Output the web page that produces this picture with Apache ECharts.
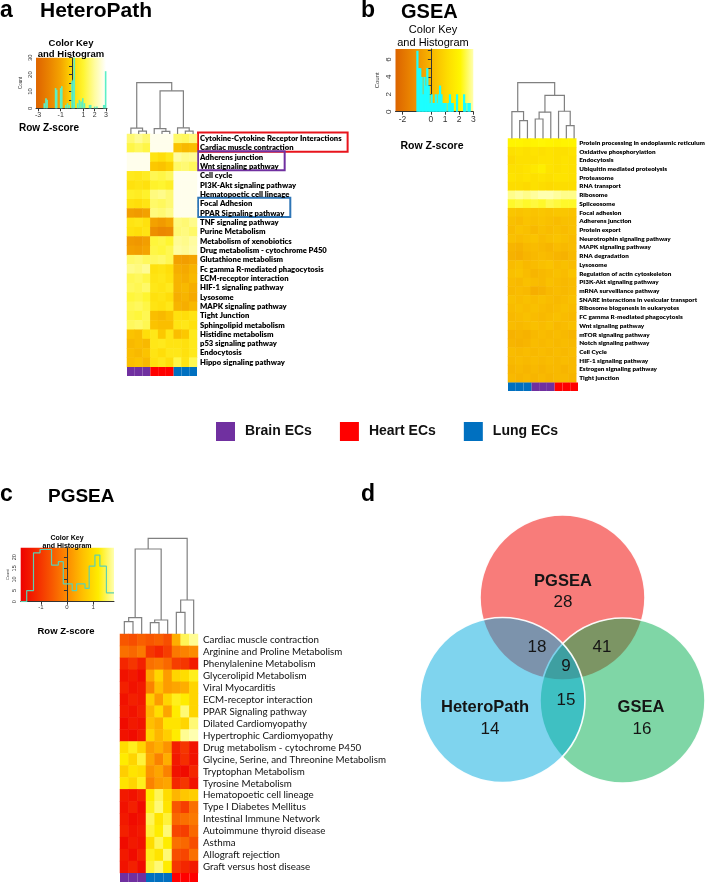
<!DOCTYPE html>
<html><head><meta charset="utf-8">
<script src="https://cdn.jsdelivr.net/npm/echarts@6/dist/echarts.min.js"></script>
<style>html,body{margin:0;padding:0;background:#fff}#c{width:708px;height:885px}</style>
</head><body><div id="c"></div>
<script>
// ---------------- DATA ----------------
const heatCols = ['C1','C2','C3','C4','C5','C6','C7','C8','C9'];

const heteroRows = ['Cytokine-Cytokine Receptor Interactions','Cardiac muscle contraction','Adherens junction','Wnt signaling pathway','Cell cycle','PI3K-Akt signaling pathway','Hematopoetic cell lineage','Focal Adhesion','PPAR Signaling pathway','TNF signaling pathway','Purine Metabolism','Metabolism of xenobiotics','Drug metabolism - cytochrome P450','Glutathione metabolism','Fc gamma R-mediated phagocytosis','ECM-receptor interaction','HIF-1 signaling pathway','Lysosome','MAPK signaling pathway','Tight Junction','Sphingolipid metabolism','Histidine metabolism','p53 signaling pathway','Endocytosis','Hippo signaling pathway'];
const heteroVals = [
[1.6,1.9,1.6, 2.8,2.8,2.8, 1.5,1.4,1.7],
[1.2,1.4,1.2, 2.8,2.8,2.8, -0.4,-0.6,-0.5],
[2.8,2.8,2.8, 0.4,0.2,0.5, 2.0,1.8,1.9],
[2.8,2.8,2.8, -0.3,-0.4,-0.2, 1.5,1.6,1.4],
[0.6,0.5,0.7, 1.3,1.2,1.4, 2.8,2.8,2.8],
[0.3,0.4,0.3, 0.9,1.0,0.8, 2.8,2.8,2.8],
[0.8,0.7,0.9, 1.7,1.8,1.6, 2.8,2.8,2.8],
[0.3,0.2,0.4, 1.5,1.4,1.6, 2.8,2.8,2.8],
[-1.2,-1.3,-1.1, 1.7,1.6,1.8, 2.8,2.8,2.8],
[0.4,0.5,0.3, -1.1,-1.3,-1.0, 1.7,1.6,1.8],
[0.3,0.2,0.4, -1.7,-1.9,-1.8, 1.6,1.7,1.5],
[-1.3,-1.4,-1.2, 1.1,1.2,1.0, 1.9,1.8,2.0],
[-1.1,-1.2,-1.0, 1.2,1.1,1.3, 2.0,1.9,2.1],
[1.5,1.6,1.4, 1.4,1.5,1.3, -1.1,-1.2,-1.0],
[1.8,1.7,1.9, 0.3,0.4,0.2, -0.8,-0.9,-0.7],
[1.3,1.4,1.2, 0.4,0.5,0.3, -0.7,-0.8,-0.6],
[1.4,1.3,1.5, 0.5,0.4,0.6, -0.7,-0.6,-0.8],
[1.1,1.2,1.0, 0.3,0.4,0.2, -0.8,-0.7,-0.9],
[1.3,1.4,1.2, 0.4,0.3,0.5, -0.7,-0.8,-0.6],
[1.2,1.1,1.3, -0.5,-0.6,-0.4, 0.3,0.2,0.4],
[1.4,1.5,1.3, -0.4,-0.5,-0.5, 0.4,0.5,0.3],
[-0.4,-0.5,0.2, 0.5,-0.3,0.4, -0.5,-0.3,0.6],
[-0.6,-0.5,-0.6, 0.5,0.6,0.4, 0.4,0.3,0.6],
[-0.5,-0.6,-0.4, 0.4,0.2,0.5, 0.5,0.3,0.6],
[-0.5,-0.4,-0.6, 0.3,0.5,0.2, 1.2,0.4,1.3]
];

const gseaRows = ['Protein processing in endoplasmic reticulum','Oxidative phosphorylation','Endocytosis','Ubiquitin mediated proteolysis','Proteasome','RNA transport','Ribosome','Spliceosome','Focal adhesion','Adherens junction','Protein export','Neurotrophin signaling pathway','MAPK signaling pathway','RNA degradation','Lysosome','Regulation of actin cytoskeleton','PI3K-Akt signaling pathway','mRNA surveillance pathway','SNARE interactions in vesicular transport','Ribosome biogenesis in eukaryotes','FC gamma R-mediated phagocytosis','Wnt signaling pathway','mTOR signaling pathway','Notch signaling pathway','Cell Cycle','HIF-1 signaling pathway','Estrogen signaling pathway','Tight junction'];
const gseaVals = [
[2.0,2.0,1.9,2.0,2.1,2.0,1.9,2.0,2.0],
[1.3,1.4,1.3,1.4,1.3,1.4,1.3,1.3,1.4],
[1.1,1.3,1.3,1.3,1.4,1.4,1.3,1.4,1.3],
[1.3,1.3,1.4,1.6,1.8,1.4,1.3,1.4,1.3],
[1.4,1.3,1.4,1.3,1.4,1.3,1.4,1.4,1.3],
[1.2,1.2,1.1,1.3,1.2,1.1,1.2,1.2,1.2],
[2.8,2.9,2.8,2.9,3.0,3.0,2.9,2.8,2.8],
[2.3,2.4,2.3,2.4,2.3,2.5,2.4,2.3,2.3],
[0.5,0.4,0.5,0.4,0.5,0.4,0.5,0.5,0.4],
[0.3,0.2,0.4,0.3,0.4,0.3,0.2,0.3,0.3],
[0.2,0.4,0.3,0.1,0.3,0.2,0.3,0.2,0.3],
[0.3,0.2,0.3,0.4,0.2,0.3,0.4,0.3,0.2],
[0.0,-0.1,0.1,0.2,0.1,0.0,0.2,0.1,0.2],
[-0.1,-0.2,0.0,0.1,0.2,0.1,0.0,-0.1,0.1],
[0.2,0.3,0.1,0.2,0.3,0.4,0.2,0.3,0.2],
[0.3,0.4,0.2,0.0,0.1,0.2,0.3,0.2,0.4],
[0.2,0.1,0.3,0.2,0.1,0.3,0.2,0.1,0.2],
[0.1,0.2,0.1,-0.2,-0.1,0.1,0.2,0.1,0.2],
[0.3,0.2,0.3,0.2,0.3,0.2,0.1,0.2,0.3],
[0.2,0.3,0.2,0.3,0.2,0.1,0.2,0.3,0.2],
[0.1,0.2,0.3,0.2,0.1,0.2,0.3,0.2,0.1],
[0.2,0.1,0.2,0.3,0.2,0.3,0.1,0.2,0.3],
[-0.1,0.0,-0.1,0.1,0.2,0.1,0.2,0.1,0.0],
[0.0,-0.1,0.0,0.2,0.1,0.2,0.1,0.2,0.1],
[0.2,0.1,0.2,0.1,0.2,0.1,0.2,0.1,0.2],
[0.1,0.2,0.1,0.2,0.1,0.2,0.1,0.2,0.1],
[0.0,0.1,0.0,0.1,0.0,0.1,0.1,0.0,0.1],
[0.1,0.0,0.1,0.0,0.1,0.0,0.1,0.1,0.0]
];

const pgseaRows = ['Cardiac muscle contraction','Arginine and Proline Metabolism','Phenylalenine Metabolism','Glycerolipid Metabolism','Viral Myocarditis','ECM-receptor interaction','PPAR Signaling pathway','Dilated Cardiomyopathy','Hypertrophic Cardiomyopathy','Drug metabolism - cytochrome P450','Glycine, Serine, and Threonine Metabolism','Tryptophan Metabolism','Tyrosine Metabolism','Hematopoetic cell lineage','Type I Diabetes Mellitus','Intestinal Immune Network','Autoimmune thyroid disease','Asthma','Allograft rejection','Graft versus host disease'];
const pgseaVals = [
[-0.6,-0.7,-0.5,-0.6,-0.5,-0.7, 0.4,1.5,1.7],
[-0.3,-0.4,-0.2,-1.0,-1.2,-0.9, -0.2,-0.1,0.0],
[-1.2,-1.0,-1.3,-0.3,-0.2,-0.4, -0.9,-1.0,-1.4],
[-1.5,-1.4,-1.6, 0.3,0.9,0.2, 0.9,1.0,1.3],
[-1.3,-1.5,-1.4, -0.1,0.6,0.2, 0.3,0.4,0.9],
[-1.5,-1.3,-1.4, 0.8,0.2,0.9, 1.3,1.2,0.9],
[-1.4,-1.5,-1.3, 0.5,1.0,0.3, 1.2,1.6,0.9],
[-1.6,-1.4,-1.5, 0.6,0.4,1.1, 1.1,0.9,1.6],
[-1.5,-1.6,-1.4, 0.9,0.5,0.8, 1.2,1.7,1.8],
[1.0,1.3,0.9, 0.2,0.4,0.1, -1.3,-1.0,-1.5],
[1.2,0.9,1.4, 0.3,-0.1,0.4, -1.4,-1.1,-1.5],
[0.8,1.1,1.0, 0.1,0.3,-0.1, -1.5,-1.6,-1.2],
[1.1,0.9,1.3, -0.1,0.2,0.3, -1.2,-1.0,-1.5],
[-1.4,-1.5,-1.3, 1.2,1.5,1.0, 0.5,0.7,0.8],
[-1.5,-1.3,-1.6, 1.3,1.6,1.1, -0.6,-0.9,-0.3],
[-1.4,-1.6,-1.5, 1.5,1.1,1.4, -0.4,-0.3,-0.2],
[-1.3,-1.5,-1.4, 1.4,1.2,1.6, -0.8,-0.9,-0.4],
[-1.6,-1.4,-1.5, 1.0,1.5,1.2, -0.3,-0.4,-0.7],
[-1.4,-1.6,-1.3, 1.3,1.1,1.6, -0.7,-0.8,-0.3],
[-1.5,-1.3,-1.6, 1.4,1.6,1.2, -1.0,-1.2,-1.4]
];

// column annotations
const stripA = ['Brain ECs','Brain ECs','Brain ECs','Heart ECs','Heart ECs','Heart ECs','Lung ECs','Lung ECs','Lung ECs'];
const stripB = ['Lung ECs','Lung ECs','Lung ECs','Brain ECs','Brain ECs','Brain ECs','Heart ECs','Heart ECs','Heart ECs'];
const stripC = ['Brain ECs','Brain ECs','Brain ECs','Lung ECs','Lung ECs','Lung ECs','Heart ECs','Heart ECs','Heart ECs'];
const cellTypes = ['Brain ECs','Heart ECs','Lung ECs'];

// dendrograms (children: column index or 'nK'; heights)
const dendA_left = [1, 0, 4, 3, 7, 6, 'n3', 'n1'];
const dendA_right = [2, 'n0', 5, 'n2', 8, 'n4', 'n5', 'n6'];
const dendA_height = [1.1, 2.2, 1.0, 2.0, 1.1, 2.3, 16, 19];
const dendB_left = [1, 0, 3, 'n2', 7, 6, 'n3', 'n1'];
const dendB_right = [2, 'n0', 4, 5, 8, 'n4', 'n5', 'n6'];
const dendB_height = [18.3, 27.7, 20, 27, 13.3, 28, 44.3, 57.3];
const dendC_left = [0, 'n0', 3, 'n2', 6, 'n4', 'n1', 'n6'];
const dendC_right = [1, 2, 4, 5, 7, 8, 'n3', 'n5'];
const dendC_height = [12.3, 16.3, 11.3, 14, 21.7, 34, 85, 95.7];

// colour-key histograms
const histA_x = [-2.45,-2.3,-2.2,-1.45,-1.35,-1.0,-0.9,-0.55,-0.4,-0.25,0.0,0.1,0.2,0.5,0.65,0.8,0.95,1.1,1.55,1.65,2.0,2.2,2.8,2.9,2.97];
const histA_y = [3,6,5,12,11,12,13,2,3,2,16,17,30,3,5,4,6,3,2,2,1,1,2,2,22];
const histB_x = [-0.95,-0.85,-0.75,-0.65,-0.55,-0.45,-0.35,-0.25,-0.15,-0.05,0.05,0.15,0.25,0.35,0.45,0.55,0.65,0.75,0.85,0.95,1.05,1.25,1.35,1.45,1.55,1.85,2.35,2.45,2.65,2.75];
const histB_y = [7,5,5,4,2,4,3,5,3,1,2,1,1,2,1,2,3,2,1,1,1,1,2,1,1,2,2,1,1,1];
const histC_edges = [-1.77,-1.54,-1.28,-1.03,-0.59,-0.33,-0.14,0.2,0.37,0.69,0.85,1.07,1.26,1.51,1.8];
const histC_counts = [0,5,22,23.5,16.5,18,8,5,8,6,16,21,16,4,4];

// colour scales
const colorsA = ['#E06800','#EA8400','#F4A400','#FFD800','#FFF530','#FFFCA0','#FFFFFF']; // -3..3
const rangeA = [-3, 3];
const colorsB = ['#DC6400','#E88000','#F29E00','#F9BE00','#FDDC00','#FFF600','#FFFFB0']; // -2.5..3
const rangeB = [-2.5, 3];
const colorsC = ['#EE0000','#F42800','#F85800','#FC8C00','#FFC000','#FFEC00','#FFFFB0']; // -1.77..1.8
const rangeC = [-1.77, 1.8];

// Venn
const vennSets = ['PGSEA','GSEA','HeteroPath'];
const vennCx = [162.5, 222.5, 102.5];
const vennCy = [202.5, 99.5, 100];
const vennR = [82.5, 82.5, 82.5];
const vennLabels = ['PGSEA','28','HeteroPath','14','GSEA','16','18','41','9','15'];
const vennLabelX = [163, 163, 85, 90, 241, 242, 137, 202, 166, 166];
const vennLabelY = [219, 198, 93, 71, 93, 71, 153, 153, 134, 100];
const vennLabelBold = [1,0,1,0,1,0,0,0,0,0];

// ---------------- RENDER ----------------
const LBL = "Lato,'Open Sans',sans-serif";
const SANS = "'Liberation Sans',Arial,sans-serif";
const typeColor = {'Brain ECs':'#7030A0','Heart ECs':'#FF0000','Lung ECs':'#0070C0'};
const WA = 800, WB = 800, WC = 'normal';

const mctx = document.createElement('canvas').getContext('2d');
function fit(weight, text, target){ mctx.font = weight+' 10px '+LBL; return 10*target/mctx.measureText(text).width; }
const sizeA = fit(WA, heteroRows[0], 141.7);
const sizeB = fit(WB, gseaRows[0], 126);
const sizeC = fit(WC, pgseaRows[0], 116);

const chart = echarts.init(document.getElementById('c'), null, {renderer:'canvas', width:708, height:885});

function cells(vals){ const d=[]; vals.forEach((r,i)=>r.forEach((v,j)=>d.push([j,i,v]))); return d; }
function dendroSegs(L,R,H){
  const pos={}, hh={}, segs=[];
  const px=c=> typeof c==='number'? c : pos[c];
  const ph=c=> typeof c==='number'? 0 : hh[c];
  for(let k=0;k<L.length;k++){
    const xl=px(L[k]), xr=px(R[k]);
    segs.push([xl, ph(L[k]), xr, ph(R[k]), H[k]]);
    pos['n'+k]=(xl+xr)/2; hh['n'+k]=H[k];
  }
  return segs;
}
function keyGradient(colors, crange, amin, amax){
  const n=colors.length;
  return new echarts.graphic.LinearGradient(0,0,1,0, colors.map((c,i)=>{
    const v=crange[0]+i*(crange[1]-crange[0])/(n-1);
    return {offset:Math.min(1,Math.max(0,(v-amin)/(amax-amin))), color:c};
  }));
}
const dendroRender = (params, api) => {
  const xl=api.value(0), hl=api.value(1), xr=api.value(2), hr=api.value(3), h=api.value(4);
  return {type:'polyline', shape:{points:[api.coord([xl,hl]),api.coord([xl,h]),api.coord([xr,h]),api.coord([xr,hr])]},
    style:{stroke:'#808080', lineWidth:1.2, fill:null}};
};

const keyAx = {min:-3.18, max:3.09}, keyBx={min:-2.5,max:3}, keyCx={min:-1.77,max:1.8};

const grids = [
  {left:36, top:57.7, width:71, height:50.6, show:true, borderWidth:0, backgroundColor:keyGradient(colorsA, rangeA, keyAx.min, keyAx.max)},
  {left:395.5, top:49, width:77.8, height:62.7, show:true, borderWidth:0, backgroundColor:keyGradient(colorsB, rangeB, keyBx.min, keyBx.max)},
  {left:20.7, top:547.7, width:93.3, height:54, show:true, borderWidth:0, backgroundColor:keyGradient(colorsC, rangeC, keyCx.min, keyCx.max)},
  {left:127, top:134, width:70, height:233},
  {left:508, top:138.5, width:70, height:244},
  {left:120, top:634, width:78, height:239},
  {left:127, top:82.7, width:70, height:51.3},
  {left:508, top:82.7, width:70, height:55.8},
  {left:120, top:538.3, width:78, height:95.7},
  {left:127, top:367, width:70, height:9},
  {left:508, top:382.5, width:70, height:8.5},
  {left:120, top:873, width:78, height:9},
  {left:400, top:500, width:308, height:300}
];

const axLine = {show:true, lineStyle:{color:'#333', width:1}};
function keyX(g, r, ticks, fs){ return {gridIndex:g, type:'value', min:r.min, max:r.max, axisLine:axLine,
  axisTick:{customValues:ticks, length:3, lineStyle:{color:'#333'}}, axisLabel:{customValues:ticks, fontSize:fs, color:'#333', margin:3, fontFamily:SANS}, splitLine:{show:false}}; }
function keyY(g, max, ticks, labels, fs, nameFs, gap){ return {gridIndex:g, type:'value', min:0, max:max, axisLine:axLine,
  axisTick:{customValues:ticks, length:3, lineStyle:{color:'#333'}}, axisLabel:{customValues:labels, rotate:90, fontSize:fs, color:'#333', margin:3, fontFamily:SANS},
  splitLine:{show:false}, name:'Count', nameLocation:'middle', nameGap:gap, nameRotate:90, nameTextStyle:{fontSize:nameFs, color:'#333', fontFamily:SANS}}; }
const hidden = {show:false};
function catX(g){ return {gridIndex:g, type:'category', data:heatCols, show:false, boundaryGap:true}; }
function valHidden(g, min, max){ return {gridIndex:g, type:'value', min:min, max:max, show:false, splitLine:hidden}; }
function rowY(g, rows, fs, weight, margin, color){ return {gridIndex:g, type:'category', data:rows, inverse:true, position:'right',
  axisLine:hidden, axisTick:hidden, splitLine:hidden,
  axisLabel:{interval:0, fontSize:fs, fontWeight:weight, color:color, margin:margin, fontFamily:LBL}}; }

const xAxis = [
  keyX(0, keyAx, [-3,-1,1,2,3], 7),
  keyX(1, keyBx, [-2,0,1,2,3], 8.5),
  keyX(2, keyCx, [-1,0,1], 6),
  catX(3), catX(4), catX(5),
  valHidden(6,-0.5,8.5), valHidden(7,-0.5,8.5), valHidden(8,-0.5,8.5),
  catX(9), catX(10), catX(11),
  valHidden(12,0,308)
];
const yAxis = [
  keyY(0, 30, [0,5,10,15,20,25,30], [0,10,20,30], 6, 4.5, 13),
  keyY(1, 7.2, [0,1,2,3,4,5,6,7], [0,2,4,6], 8, 6, 15),
  keyY(2, 24.3, [0,5,10,15,20], [0,5,10,15,20], 5.5, 4, 11),
  rowY(3, heteroRows, sizeA, WA, 3, '#000'),
  rowY(4, gseaRows, sizeB, WB, 3, '#000'),
  rowY(5, pgseaRows, sizeC, WC, 5, '#111'),
  valHidden(6,0,19), valHidden(7,0,57.3), valHidden(8,0,95.7),
  valHidden(9,0,1), valHidden(10,0,1), valHidden(11,0,1),
  valHidden(12,0,300)
];

const series = [
  {type:'heatmap', xAxisIndex:3, yAxisIndex:3, data:cells(heteroVals), itemStyle:{borderWidth:0}},
  {type:'heatmap', xAxisIndex:4, yAxisIndex:4, data:cells(gseaVals), itemStyle:{borderWidth:0}},
  {type:'heatmap', xAxisIndex:5, yAxisIndex:5, data:cells(pgseaVals), itemStyle:{borderWidth:0}},
  {type:'bar', xAxisIndex:0, yAxisIndex:0, data:histA_x.map((x,i)=>[x,histA_y[i]]), barWidth:1.6, itemStyle:{color:'#5CF0C4'}, silent:true},
  {type:'bar', xAxisIndex:1, yAxisIndex:1, data:histB_x.map((x,i)=>[x,histB_y[i]]), barWidth:2.2, itemStyle:{color:'#1CFFFF'}, silent:true},
  {type:'line', xAxisIndex:2, yAxisIndex:2, data:histC_edges.map((x,i)=>[x,histC_counts[i]]), step:'end', symbol:'none', lineStyle:{color:'#5ECFB0', width:1.2}, silent:true},
  {type:'custom', xAxisIndex:6, yAxisIndex:6, data:dendroSegs(dendA_left,dendA_right,dendA_height), renderItem:dendroRender, encode:{x:[0,2], y:[1,3,4]}, silent:true},
  {type:'custom', xAxisIndex:7, yAxisIndex:7, data:dendroSegs(dendB_left,dendB_right,dendB_height), renderItem:dendroRender, encode:{x:[0,2], y:[1,3,4]}, silent:true},
  {type:'custom', xAxisIndex:8, yAxisIndex:8, data:dendroSegs(dendC_left,dendC_right,dendC_height), renderItem:dendroRender, encode:{x:[0,2], y:[1,3,4]}, silent:true}
];
[[9,stripA],[10,stripB],[11,stripC]].forEach(([g,strip])=>{
  cellTypes.forEach(t=>{
    series.push({type:'bar', name:t, xAxisIndex:g, yAxisIndex:g, barWidth:'100%', barGap:'-100%',
      data:strip.map(s=> s===t?1:'-'), itemStyle:{color:typeColor[t]}, silent:true});
  });
});
const vennFill = ['rgb(248,124,122)','rgba(0,173,77,0.5)','rgba(0,169,221,0.5)'];
series.push({type:'custom', xAxisIndex:12, yAxisIndex:12, silent:true,
  data:vennCx.map((x,i)=>[x, vennCy[i], vennR[i]]), encode:{x:0,y:1},
  renderItem:(params, api)=>{
    const c=api.coord([api.value(0),api.value(1)]); const r=api.size([api.value(2),0])[0];
    return {type:'circle', shape:{cx:c[0],cy:c[1],r:r}, style:{fill:vennFill[params.dataIndex], stroke:'rgba(255,255,255,0.95)', lineWidth:1.6}};
  }});
series.push({type:'custom', xAxisIndex:12, yAxisIndex:12, silent:true, z:5,
  data:vennLabelX.map((x,i)=>[x, vennLabelY[i]]), encode:{x:0,y:1},
  renderItem:(params, api)=>{
    const c=api.coord([api.value(0),api.value(1)]); const i=params.dataIndex; const b=vennLabelBold[i];
    return {type:'text', x:c[0], y:c[1], style:{text:vennLabels[i], fill:'#151515', textAlign:'center', textVerticalAlign:'middle',
      font:(b?'bold 16.5px ':'17px ')+SANS}};
  }});

const option = {
  animation:false,
  backgroundColor:'#fff',
  textStyle:{fontFamily:SANS},
  grid:grids, xAxis:xAxis, yAxis:yAxis,
  visualMap:[
    {type:'continuous', show:false, seriesIndex:0, dimension:2, min:rangeA[0], max:rangeA[1], inRange:{color:colorsA}},
    {type:'continuous', show:false, seriesIndex:1, dimension:2, min:rangeB[0], max:rangeB[1], inRange:{color:colorsB}},
    {type:'continuous', show:false, seriesIndex:2, dimension:2, min:rangeC[0], max:rangeC[1], inRange:{color:colorsC}}
  ],
  legend:{data:cellTypes, left:211, top:417, itemWidth:19, itemHeight:19, itemGap:28, icon:'rect', selectedMode:false,
    textStyle:{fontFamily:SANS, fontWeight:'bold', fontSize:14, color:'#111', padding:[0,0,0,5]}},
  series:series
};
chart.setOption(option);

// texts and highlight boxes (middle-aligned; y = baseline - 0.35*size)
function txt(t, x, y, font, align){ return {type:'text', x:x, y:y, silent:true, style:{text:t, font:font, fill:'#000', textAlign:align||'left', textVerticalAlign:'middle'}}; }
const els = [
  txt('a', 0, 11, 'bold 23px '+SANS),
  txt('HeteroPath', 40, 11.5, 'bold 21px '+SANS),
  txt('b', 361, 11, 'bold 23px '+SANS),
  txt('GSEA', 401, 12, 'bold 20px '+SANS),
  txt('c', 0, 495, 'bold 23px '+SANS),
  txt('PGSEA', 48, 496.3, 'bold 19px '+SANS),
  txt('d', 361, 495, 'bold 23px '+SANS),
  txt('Color Key', 71, 43, 'bold 9.5px '+SANS, 'center'),
  txt('and Histogram', 71, 54, 'bold 9.5px '+SANS, 'center'),
  txt('Row Z-score', 49, 128, 'bold 10px '+SANS, 'center'),
  txt('Color Key', 433, 30, '11px '+SANS, 'center'),
  txt('and Histogram', 433, 43, '11px '+SANS, 'center'),
  txt('Row Z-score', 432, 146, 'bold 10.5px '+SANS, 'center'),
  txt('Color Key', 67, 538, 'bold 7px '+SANS, 'center'),
  txt('and Histogram', 67, 546, 'bold 7px '+SANS, 'center'),
  txt('Row Z-score', 66, 631, 'bold 9.5px '+SANS, 'center')
];
const boxes = [{rows:[0,1], color:'#E8141C'}, {rows:[2,3], color:'#7030A0'}, {rows:[7,8], color:'#2E75B6'}];
mctx.font = WA + ' ' + sizeA + 'px ' + LBL;
const y0 = chart.convertToPixel({yAxisIndex:3}, heteroRows[0]);
const y1 = chart.convertToPixel({yAxisIndex:3}, heteroRows[1]);
const rowH = y1 - y0;
const c8 = chart.convertToPixel({xAxisIndex:3}, heatCols[8]), c7 = chart.convertToPixel({xAxisIndex:3}, heatCols[7]);
const gx = c8 + (c8 - c7)/2;
boxes.forEach(b=>{
  const ya = chart.convertToPixel({yAxisIndex:3}, heteroRows[b.rows[0]]) - rowH/2 - 1.5;
  const yb = chart.convertToPixel({yAxisIndex:3}, heteroRows[b.rows[1]]) + rowH/2 - 1;
  let w = 0; b.rows.forEach(r=>{ w = Math.max(w, mctx.measureText(heteroRows[r]).width); });
  els.push({type:'rect', silent:true, shape:{x:gx+1, y:ya, width:w+8, height:yb-ya}, style:{fill:null, stroke:b.color, lineWidth:2}});
});
chart.setOption({graphic:{elements:els}});
</script></body></html>
